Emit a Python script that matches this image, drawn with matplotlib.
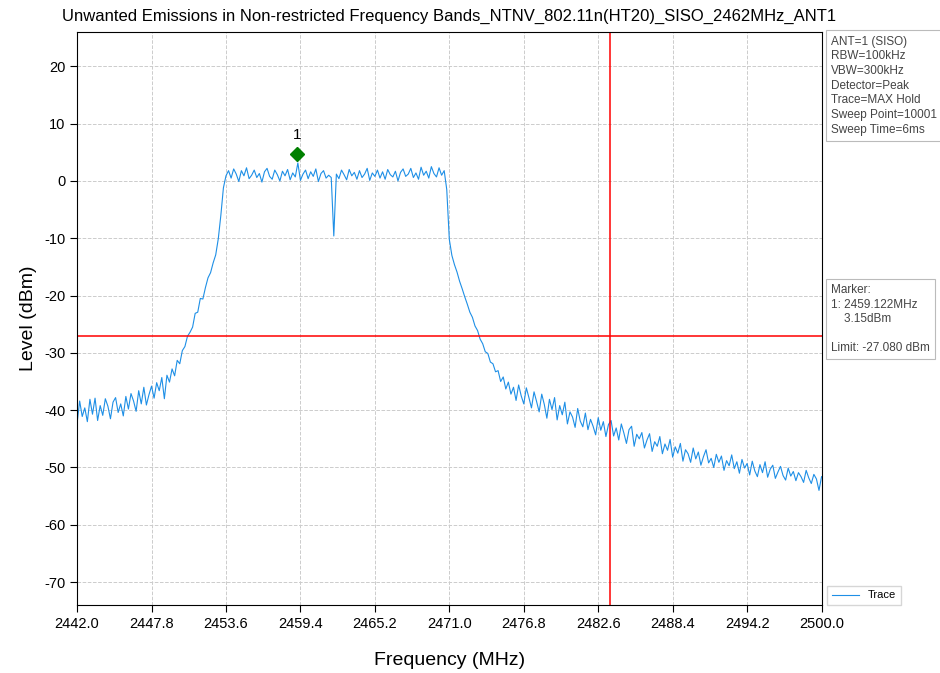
import numpy as np
import matplotlib
matplotlib.use("Agg")
import matplotlib.pyplot as plt

plt.rcParams['font.family'] = ['Liberation Sans', 'DejaVu Sans']
plt.rcParams['axes.unicode_minus'] = False

# Sweep grid 2442-2500 MHz, 0.2 MHz step
f_start, f_stop = 2442.0, 2500.0
freq = np.linspace(f_start, f_stop, 291)

# Trace level (dBm), one row = 2 MHz
level = [
    -42.3, -38.4, -41.1, -39.6, -42.0, -38.1, -40.7, -37.9, -41.8, -39.2,
    -40.9, -38.0, -39.3, -41.5, -38.6, -37.8, -40.4, -38.9, -41.0, -37.6,
    -39.8, -37.1, -38.4, -40.2, -36.6, -38.9, -36.0, -39.1, -37.3, -35.8,
    -37.9, -35.2, -36.6, -34.3, -38.0, -33.9, -35.1, -32.8, -34.0, -31.3,
    -31.9, -29.6, -28.9, -27.1, -26.4, -25.5, -23.1, -22.9, -20.5, -20.6,
    -18.6, -16.9, -16.0, -14.3, -12.9, -10.1, -6.0, -1.2, 0.9, 1.8,
    0.5, 2.1, 1.2, -0.1, 1.8, 0.9, 2.3, 0.4, 1.0, 1.9,
    0.6, 1.3, -0.2, 1.6, 2.2, 0.8, 0.3, 1.9, 1.1, 0.0,
    1.7, 0.9, 2.0, 0.2, 1.4, 0.7, 3.15, 0.1, 1.2, 1.9,
    0.4, 1.6, 0.8, 2.1, -0.1, 1.3, 1.8, 0.5, 1.0, 0.6,
    -9.6, 1.2, 0.4, 1.9, 1.1, 0.2, 2.0, 0.9, 1.5, 0.3,
    1.8, 0.6, 1.2, 2.2, 0.1, 1.4, 0.8, 1.9, 0.5, 1.6,
    0.3, 2.0, 1.1, 0.7, 1.7, 0.0, 1.5, 2.1, 0.8, 1.2,
    2.2, 0.6, 1.4, 0.3, 2.4, 1.0, 1.7, 0.5, 2.5, 1.3,
    0.7, 2.3, 1.0, 1.8, -1.5, -10.2, -13.0, -14.6, -15.9, -17.5,
    -18.8, -20.2, -21.5, -22.9, -23.8, -25.3, -26.1, -27.6, -28.4, -29.8,
    -30.1, -31.6, -31.9, -33.3, -33.1, -35.0, -34.2, -36.3, -35.1, -37.2,
    -36.0, -38.3, -35.6, -37.5, -38.9, -36.1, -37.8, -39.6, -36.8, -38.5,
    -40.3, -37.2, -39.0, -41.4, -38.1, -39.9, -37.8, -41.7, -39.2, -40.8,
    -38.6, -42.4, -40.3, -41.2, -43.0, -39.7, -41.9, -42.9, -40.5, -43.4,
    -41.6, -42.8, -44.3, -41.3, -43.5, -42.0, -44.6, -42.5, -41.8, -44.5,
    -43.1, -45.2, -42.4, -44.0, -45.8, -43.4, -42.8, -46.3, -44.2, -45.0,
    -43.9, -46.6, -45.2, -44.1, -47.2, -45.5, -46.3, -44.6, -47.6, -45.9,
    -47.0, -45.1, -48.2, -46.4, -47.5, -45.8, -48.9, -46.9, -47.6, -49.1,
    -46.6, -48.5, -47.3, -49.6, -48.1, -46.9, -49.2, -48.4, -50.0, -47.7,
    -49.1, -48.0, -50.5, -48.8, -49.7, -47.8, -50.2, -49.0, -51.0, -48.6,
    -50.1, -49.3, -51.3, -48.9, -50.6, -51.6, -49.5, -50.9, -49.0, -51.7,
    -50.3, -49.6, -51.9, -50.8, -49.8, -51.4, -52.2, -50.1, -51.5, -50.7,
    -52.3, -50.9, -51.6, -52.6, -50.5, -51.8, -52.8, -51.2, -52.0, -54.0,
    -51.6,
]

limit_dbm = -27.08
band_edge = 2483.5
marker_freq = 2459.122
marker_level = 3.15

xticks = [2442.0, 2447.8, 2453.6, 2459.4, 2465.2, 2471.0, 2476.8, 2482.6, 2488.4, 2494.2, 2500.0]
yticks = [20, 10, 0, -10, -20, -30, -40, -50, -60, -70]

fig = plt.figure(figsize=(9.4, 6.73), dpi=100)
ax = fig.add_axes([0.082, 0.101, 0.792, 0.8515])

ax.plot(freq, level, color='#1E8FE6', lw=0.8, label='Trace')
ax.axhline(limit_dbm, color='red', lw=1.1)
ax.axvline(band_edge, color='red', lw=1.1)

# peak marker drawn a bit above the trace
ax.plot(marker_freq, marker_level + 1.5, marker='D', color='green', ms=7, ls='none')
ax.text(marker_freq, marker_level + 3.6, '1', ha='center', va='bottom', fontsize=11)

ax.set_xlim(f_start, f_stop)
ax.set_ylim(-74, 26)
ax.set_xticks(xticks)
ax.set_xticklabels([f'{t:.1f}' for t in xticks])
ax.set_yticks(yticks)
ax.tick_params(labelsize=10.5, length=5, direction='out')
ax.grid(True, ls='--', color='#cccccc', lw=0.7)
ax.set_axisbelow(True)

ax.set_title('Unwanted Emissions in Non-restricted Frequency Bands_NTNV_802.11n(HT20)_SISO_2462MHz_ANT1',
             fontsize=12, pad=8)
ax.set_xlabel('Frequency (MHz)', fontsize=14, labelpad=15)
ax.set_ylabel('Level (dBm)', fontsize=14, labelpad=5)

box = dict(boxstyle='square,pad=0.45', facecolor='white', edgecolor='#bbbbbb', lw=0.8)
fig.text(0.884, 0.947,
         'ANT=1 (SISO)\nRBW=100kHz\nVBW=300kHz\nDetector=Peak\nTrace=MAX Hold\nSweep Point=10001\nSweep Time=6ms',
         fontsize=8.5, va='top', ha='left', linespacing=1.3, bbox=box, color='#444444')
fig.text(0.884, 0.578,
         'Marker:\n1: 2459.122MHz\n    3.15dBm\n\nLimit: -27.080 dBm',
         fontsize=8.5, va='top', ha='left', linespacing=1.28, bbox=box, color='#444444')

fig.legend(loc='lower left', bbox_to_anchor=(0.874, 0.093), fontsize=8, frameon=True,
           handlelength=2.5, fancybox=False, edgecolor='#cccccc')

fig.savefig('out.png', dpi=100)
